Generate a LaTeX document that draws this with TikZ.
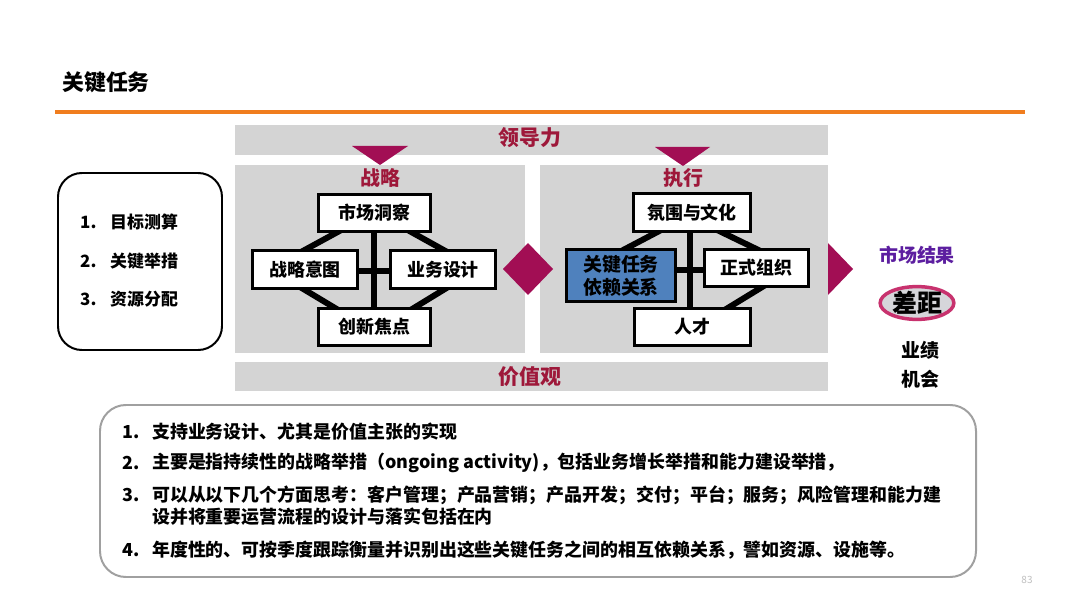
\documentclass[tikz,border=0pt]{standalone}
\usepackage{fontspec}
\setmainfont{Noto Sans CJK SC}
\usetikzlibrary{shapes.geometric,calc}
\definecolor{panelgray}{RGB}{212,212,212}
\definecolor{maroon}{RGB}{162,14,84}
\definecolor{darkred}{RGB}{158,24,58}
\definecolor{orangeline}{RGB}{240,125,30}
\definecolor{bluebox}{RGB}{79,129,189}
\definecolor{purpletext}{RGB}{92,30,160}
\definecolor{ringpink}{RGB}{200,50,110}
\definecolor{ellfill}{RGB}{214,214,218}
\definecolor{boxgray}{RGB}{160,160,160}
\newcommand\myfs[1]{\fontsize{#1}{#1}\selectfont\bfseries}
\tikzset{
  panel/.style={fill=panelgray, draw=none},
  conn/.style={draw=black, line width=6},
  wbox/.style={draw=black, line width=3.5, fill=white, inner sep=0pt, font=\myfs{18}},
  redlabel/.style={text=darkred, font=\myfs{21}, inner sep=0pt},
  marker/.style={fill=maroon, draw=none},
  itemnum/.style={anchor=west, inner sep=0pt, font=\myfs{18}},
  itemtxt/.style={anchor=west, inner sep=0pt, font=\myfs{18}},
}
\begin{document}
\begin{tikzpicture}[x=1bp,y=-1bp]
\useasboundingbox (0,0) rectangle (1080,608);
\fill[white] (0,0) rectangle (1080,608);

% title and rule
\node[anchor=west, inner sep=0pt, font=\myfs{22}] (title) at (62,82) {关键任务};
\draw[orangeline, line width=4] (55,112) -- (1025,112);

% gray bands and panels
\fill[panel] (235,125) rectangle (828,155);
\fill[panel] (235,165) rectangle (525,353);
\fill[panel] (540,165) rectangle (828,353);
\fill[panel] (235,362) rectangle (828,391);
\node[redlabel] (ldl) at (530,138) {领导力};
\node[redlabel] (jzg) at (530,377) {价值观};

% down triangles
\fill[marker] (352,146) -- (408,146) -- (380,165) -- cycle;
\fill[marker] (655,147) -- (710,147) -- (683,166) -- cycle;
\node[redlabel, font=\myfs{20}] (zl0) at (380,178) {战略};
\node[redlabel, font=\myfs{20}] (zx0) at (683,178) {执行};

% diamond and right arrow
\fill[marker] (503,269) -- (528,243) -- (553,269) -- (528,295) -- cycle;
\fill[marker] (828,243) -- (853,269) -- (828,295) -- cycle;

% ---- left panel connectors
\coordinate (l1a) at (345,228); \coordinate (l1b) at (290,258);
\coordinate (l2a) at (290,281); \coordinate (l2b) at (345,314);
\coordinate (l3a) at (404,228); \coordinate (l3b) at (458,258);
\coordinate (l4a) at (458,281); \coordinate (l4b) at (404,314);
\coordinate (lv1) at (374,213); \coordinate (lv2) at (374,327);
\coordinate (lh1) at (305,271); \coordinate (lh2) at (443,271);
\draw[conn] (l1a) -- (l1b);
\draw[conn] (l2a) -- (l2b);
\draw[conn] (l3a) -- (l3b);
\draw[conn] (l4a) -- (l4b);
\draw[conn] (lv1) -- (lv2);
\draw[conn] (lh1) -- (lh2);

\node[wbox, minimum width=112, minimum height=37] (mc) at (374.5,213) {市场洞察};
\node[wbox, minimum width=105, minimum height=38] (zl) at (305,269.5) {战略意图};
\node[wbox, minimum width=105, minimum height=38] (yw) at (443,269.5) {业务设计};
\node[wbox, minimum width=112, minimum height=37] (cx) at (374.5,327) {创新焦点};

% ---- right panel connectors
\coordinate (r1a) at (665,228); \coordinate (r1b) at (608,258);
\coordinate (r3a) at (713,228); \coordinate (r3b) at (775,258);
\coordinate (r4a) at (772,281); \coordinate (r4b) at (718,314);
\coordinate (rv1) at (690,212); \coordinate (rv2) at (690,327);
\coordinate (rh1) at (621,270); \coordinate (rh2) at (756,270);
\draw[conn] (r1a) -- (r1b);
\draw[conn] (r3a) -- (r3b);
\draw[conn] (r4a) -- (r4b);
\draw[conn] (rv1) -- (rv2);
\draw[conn] (rh1) -- (rh2);

\node[wbox, minimum width=117, minimum height=38] (fw) at (692,212.5) {氛围与文化};
\node[wbox, fill=bluebox, minimum width=109, minimum height=52, align=center, font=\myfs{19}] (gj) at (621,275.5) {关键任务\\[4pt]依赖关系};
\node[wbox, minimum width=104, minimum height=37] (zs) at (756.5,268) {正式组织};
\node[wbox, minimum width=116, minimum height=37] (rc) at (692.5,327) {人才};

% ---- market results
\node[text=purpletext, font=\myfs{19}, inner sep=0pt] (scjg) at (917,255) {市场结果};
\node[ellipse, draw=ringpink, line width=3.5, fill=ellfill, minimum width=74, minimum height=32, inner sep=0pt, font=\myfs{25}] (cj) at (917,303) {差距};
\node[font=\myfs{19}, inner sep=0pt] (yj) at (920,350) {业绩};
\node[font=\myfs{19}, inner sep=0pt] (jh) at (920,379) {机会};

% ---- left rounded box
\draw[black, line width=2, rounded corners=24] (58,173) rectangle (222,350);
\node[itemnum, font=\myfs{17}] (ln1) at (80,222) {1.};
\node[itemtxt, font=\myfs{17}] (lt1) at (110,222) {目标测算};
\node[itemnum, font=\myfs{17}] (ln2) at (80,261) {2.};
\node[itemtxt, font=\myfs{17}] (lt2) at (110,261) {关键举措};
\node[itemnum, font=\myfs{17}] (ln3) at (80,299) {3.};
\node[itemtxt, font=\myfs{17}] (lt3) at (110,299) {资源分配};

% ---- bottom rounded box
\draw[boxgray, line width=2, rounded corners=26] (100,405) rectangle (976,577);
\node[itemnum] (bn1) at (122,432) {1.};
\node[itemtxt] (bt1) at (152,432) {支持业务设计、尤其是价值主张的实现};
\node[itemnum] (bn2) at (122,463) {2.};
\node[itemtxt] (bt2) at (152,463) {主要是指持续性的战略举措（ongoing activity)，包括业务增长举措和能力建设举措，};
\node[itemnum] (bn3) at (122,495) {3.};
\node[itemtxt] (bt3) at (152,495) {可以从以下几个方面思考：客户管理；产品营销；产品开发；交付；平台；服务；风险管理和能力建};
\node[itemtxt] (bt3b) at (152,517) {设并将重要运营流程的设计与落实包括在内};
\node[itemnum] (bn4) at (122,550) {4.};
\node[itemtxt] (bt4) at (152,550) {年度性的、可按季度跟踪衡量并识别出这些关键任务之间的相互依赖关系，譬如资源、设施等。};

% page number
\node[text=black!25, font=\fontsize{10}{10}\selectfont, inner sep=0pt] (pg) at (1027,580) {83};
\end{tikzpicture}
\end{document}
